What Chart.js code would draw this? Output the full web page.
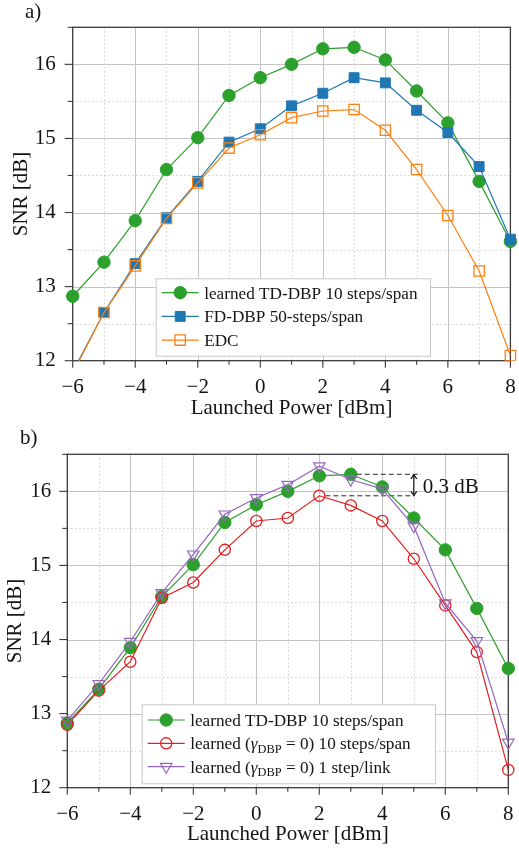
<!DOCTYPE html>
<html>
<head>
<meta charset="utf-8">
<title>SNR vs launched power</title>
<script src="https://cdn.jsdelivr.net/npm/chart.js@4/dist/chart.umd.min.js"></script>
<style>
  html, body { margin: 0; padding: 0; background: #ffffff; }
  canvas { display: block; position: absolute; left: 0; }
</style>
</head>
<body>
<canvas id="snrA" width="519" height="425" style="top:0px"></canvas>
<canvas id="snrB" width="519" height="425" style="top:425px"></canvas>
<script>
// ---- data ----
const powerDbm = [-6, -5, -4, -3, -2, -1, 0, 1, 2, 3, 4, 5, 6, 7, 8];
const tdDbpLearned      = [12.87, 13.33, 13.89, 14.58, 15.01, 15.58, 15.82, 16.00, 16.21, 16.23, 16.06, 15.64, 15.21, 14.42, 13.61];
const fdDbp50           = [11.85, 12.65, 13.31, 13.93, 14.42, 14.95, 15.13, 15.44, 15.61, 15.82, 15.75, 15.38, 15.08, 14.62, 13.64];
const edc               = [11.83, 12.65, 13.28, 13.92, 14.40, 14.87, 15.05, 15.28, 15.37, 15.39, 15.11, 14.58, 13.96, 13.21, 12.07];
const learnedNoGamma10  = [12.85, 13.31, 13.70, 14.56, 14.77, 15.21, 15.60, 15.64, 15.94, 15.81, 15.60, 15.09, 14.46, 13.83, 12.24];
const learnedNoGamma1   = [12.91, 13.40, 13.97, 14.63, 15.15, 15.69, 15.91, 16.09, 16.34, 16.16, 16.03, 15.53, 14.49, 13.98, 12.61];

const xTickValues = [-6, -4, -2, 0, 2, 4, 6, 8];
const yTickValues = [12, 13, 14, 15, 16];
const xTitle = 'Launched Power [dBm]';
const yTitle = 'SNR [dB]';

const labelTdDbp   = 'learned TD-DBP 10 steps/span';
const labelFdDbp   = 'FD-DBP 50-steps/span';
const labelEdc     = 'EDC';
const labelNoGam10 = 'learned (γ_{DBP} = 0) 10 steps/span';
const labelNoGam1  = 'learned (γ_{DBP} = 0) 1 step/link';
const gapLabel     = '0.3 dB';

// ---- styling ----
const SERIF = "'Liberation Serif', 'DejaVu Serif', serif";
const INK = '#141414';
const GREEN = '#2ca02c', BLUE = '#1f77b4', ORANGE = '#ff7f0e', RED = '#e41f22', PURPLE = '#9467bd';
const NONE = 'rgba(0,0,0,0)';

const styleTd  = { borderColor: GREEN,  borderWidth: 1.2, pointStyle: 'circle', pointRadius: 6.2, pointBackgroundColor: GREEN, pointBorderColor: GREEN, pointBorderWidth: 1 };
const styleFd  = { borderColor: BLUE,   borderWidth: 1.2, pointStyle: 'rect',   pointRadius: 7,   pointBackgroundColor: BLUE,  pointBorderColor: BLUE,  pointBorderWidth: 1 };
const styleEdc = { borderColor: ORANGE, borderWidth: 1.2, pointStyle: 'rect',   pointRadius: 7.3, pointBackgroundColor: NONE,  pointBorderColor: ORANGE, pointBorderWidth: 1.3 };
const styleN10 = { borderColor: RED,    borderWidth: 1.2, pointStyle: 'circle', pointRadius: 5.6, pointBackgroundColor: NONE,  pointBorderColor: RED,   pointBorderWidth: 1.3 };
const styleN1  = { borderColor: PURPLE, borderWidth: 1.2, pointStyle: 'triangle', pointRotation: 180, pointRadius: 6.6, pointBackgroundColor: NONE, pointBorderColor: PURPLE, pointBorderWidth: 1.2 };

function series(label, values, style, order) {
  return Object.assign({
    label,
    data: powerDbm.map((x, i) => ({ x, y: values[i] })),
    backgroundColor: NONE,
    tension: 0,
    order,
    clip: { left: 12, right: 12, top: 12, bottom: 0 }
  }, style);
}

function fmtTick(v) { return v < 0 ? '\u2212' + Math.abs(v) : String(v); }

// draws "text_{sub}" with italic greek and lowered subscripts
function drawRich(ctx, text, x, y, size) {
  const parts = [];
  const re = /_\{([^}]*)\}/g;
  let last = 0, m;
  while ((m = re.exec(text)) !== null) {
    if (m.index > last) parts.push({ t: text.slice(last, m.index) });
    parts.push({ t: m[1], sub: true });
    last = re.lastIndex;
  }
  if (last < text.length) parts.push({ t: text.slice(last) });
  let cx = x;
  ctx.textBaseline = 'alphabetic';
  ctx.textAlign = 'left';
  for (const p of parts) {
    const chunks = p.sub ? [{ t: p.t, it: false }] :
      p.t.split(/([\u03b1-\u03c9])/).filter(s => s.length).map(s => ({ t: s, it: /^[\u03b1-\u03c9]$/.test(s) }));
    for (const c of chunks) {
      const fs = p.sub ? size * 0.72 : size;
      ctx.font = (c.it ? 'italic ' : '') + fs + 'px ' + SERIF;
      ctx.fillText(c.t, cx, y + (p.sub ? size * 0.22 : 0));
      cx += ctx.measureText(c.t).width;
    }
  }
}

function drawMarker(ctx, ds, x, y) {
  ctx.save();
  ctx.fillStyle = ds.pointBackgroundColor;
  ctx.strokeStyle = ds.pointBorderColor;
  ctx.lineWidth = ds.pointBorderWidth;
  Chart.helpers.drawPoint(ctx, {
    pointStyle: ds.pointStyle,
    rotation: ds.pointRotation || 0,
    radius: ds.pointRadius,
    borderWidth: ds.pointBorderWidth
  }, x, y);
  ctx.restore();
}

// grid lines, frame and tick marks
const framePlugin = {
  id: 'frame',
  beforeDatasetsDraw(chart) {
    const { ctx, chartArea: a, scales: { x, y } } = chart;
    ctx.save();
    ctx.lineWidth = 1;
    const seg = (x0, y0, x1, y1) => { ctx.beginPath(); ctx.moveTo(x0, y0); ctx.lineTo(x1, y1); ctx.stroke(); };
    for (let v = x.min + 1; v < x.max; v++) {
      const px = Math.round(x.getPixelForValue(v)) + 0.5;
      const major = xTickValues.includes(v);
      ctx.strokeStyle = major ? '#c4c4c4' : '#b9b9b9';
      ctx.setLineDash(major ? [] : [1, 3]);
      seg(px, a.top, px, a.bottom);
    }
    for (const t of y.ticks) {
      const v = t.value;
      if (v <= y.min || v >= y.max) continue;
      const py = Math.round(y.getPixelForValue(v)) + 0.5;
      const major = yTickValues.includes(v);
      ctx.strokeStyle = major ? '#c4c4c4' : '#b9b9b9';
      ctx.setLineDash(major ? [] : [1, 3]);
      seg(a.left, py, a.right, py);
    }
    ctx.setLineDash([]);
    ctx.strokeStyle = '#3a3a3a';
    ctx.lineWidth = 1.3;
    ctx.strokeRect(a.left, a.top, a.right - a.left, a.bottom - a.top);
    ctx.lineWidth = 1.1;
    for (let v = x.min; v <= x.max; v++) {
      const px = x.getPixelForValue(v);
      seg(px, a.bottom, px, a.bottom + (xTickValues.includes(v) ? 7 : 4));
    }
    for (const t of y.ticks) {
      const py = y.getPixelForValue(t.value);
      seg(a.left, py, a.left - (yTickValues.includes(t.value) ? 8 : 5), py);
    }
    ctx.restore();
  }
};

// boxed legend placed inside the plot area
const boxLegendPlugin = {
  id: 'boxLegend',
  afterDatasetsDraw(chart, args, opts) {
    if (!opts || !opts.box) return;
    const { ctx } = chart;
    const b = opts.box;
    ctx.save();
    ctx.fillStyle = '#ffffff';
    ctx.strokeStyle = '#c8c8c8';
    ctx.lineWidth = 1;
    ctx.fillRect(b.left, b.top, b.width, b.height);
    ctx.strokeRect(b.left + 0.5, b.top + 0.5, b.width, b.height);
    chart.data.datasets.forEach((ds, i) => {
      const cy = b.top + opts.firstRow + i * opts.rowGap;
      const x0 = b.left + 6, x1 = b.left + 43;
      ctx.strokeStyle = ds.borderColor;
      ctx.lineWidth = ds.borderWidth;
      ctx.beginPath(); ctx.moveTo(x0, cy); ctx.lineTo(x1, cy); ctx.stroke();
      drawMarker(ctx, ds, (x0 + x1) / 2, cy);
      ctx.fillStyle = INK;
      drawRich(ctx, ds.label, b.left + 48.5, cy + 6, 17.2);
    });
    ctx.restore();
  }
};

// panel tag such as "a)"
const panelTagPlugin = {
  id: 'panelTag',
  afterDraw(chart, args, opts) {
    if (!opts || !opts.text) return;
    const { ctx } = chart;
    ctx.save();
    ctx.fillStyle = INK;
    ctx.font = '21px ' + SERIF;
    ctx.textAlign = 'left';
    ctx.textBaseline = 'middle';
    ctx.fillText(opts.text, opts.x, opts.y);
    ctx.restore();
  }
};

// peak-gap marker: two dashed levels and a double arrow with its label
const gapPlugin = {
  id: 'gapMarker',
  beforeDatasetsDraw(chart, args, opts) {
    if (!opts || !opts.upper) return;
    const { ctx, scales: { x, y } } = chart;
    const up = opts.upper, lo = opts.lower;
    const yu = y.getPixelForValue(up.value), yl = y.getPixelForValue(lo.value);
    ctx.save();
    ctx.strokeStyle = '#2a2a2a';
    ctx.lineWidth = 1;
    ctx.setLineDash([5, 3]);
    ctx.beginPath();
    ctx.moveTo(x.getPixelForValue(up.from) + 6, yu); ctx.lineTo(x.getPixelForValue(up.to), yu);
    ctx.moveTo(x.getPixelForValue(lo.from) + 6, yl); ctx.lineTo(x.getPixelForValue(lo.to), yl);
    ctx.stroke();
    ctx.setLineDash([]);
    const ax = x.getPixelForValue(opts.arrowX);
    ctx.strokeStyle = '#111';
    ctx.lineWidth = 1.2;
    ctx.beginPath(); ctx.moveTo(ax, yu + 1); ctx.lineTo(ax, yl - 1); ctx.stroke();
    ctx.beginPath();
    ctx.moveTo(ax - 3, yu + 4.5); ctx.lineTo(ax, yu + 0.5); ctx.lineTo(ax + 3, yu + 4.5);
    ctx.moveTo(ax - 3, yl - 4.5); ctx.lineTo(ax, yl - 0.5); ctx.lineTo(ax + 3, yl - 4.5);
    ctx.stroke();
    ctx.fillStyle = INK;
    ctx.font = '21px ' + SERIF;
    ctx.textAlign = 'left';
    ctx.textBaseline = 'middle';
    ctx.fillText(opts.text, ax + 9, (yu + yl) / 2 + 2);
    ctx.restore();
  }
};

function makeChart(id, datasets, L, pluginOpts) {
  const tickFont = { family: SERIF, size: 21 };
  return new Chart(document.getElementById(id), {
    type: 'line',
    data: { datasets },
    plugins: [framePlugin, gapPlugin, boxLegendPlugin, panelTagPlugin],
    options: {
      responsive: false,
      animation: false,
      devicePixelRatio: 1,
      events: [],
      layout: { padding: { left: 0, top: L.top, right: L.right, bottom: 0 } },
      plugins: Object.assign({ legend: { display: false }, tooltip: { enabled: false } }, pluginOpts),
      scales: {
        x: {
          type: 'linear', min: -6, max: 8,
          afterBuildTicks: s => { s.ticks = powerDbm.map(v => ({ value: v })); },
          ticks: {
            autoSkip: false, maxRotation: 0, minRotation: 0, padding: L.xTickPad,
            color: INK, font: tickFont,
            callback: v => xTickValues.includes(v) ? fmtTick(v) : ''
          },
          grid: { display: false, drawTicks: false, tickLength: 0 },
          border: { display: false },
          title: { display: true, text: xTitle, color: INK, font: tickFont, padding: { top: 0, bottom: L.xTitlePad } },
          afterFit: s => { s.height = L.xHeight; s.paddingLeft = 0; s.paddingRight = 0; }
        },
        y: {
          type: 'linear', min: 12, max: 16.5,
          ticks: {
            stepSize: 0.5, padding: L.yTickPad, color: INK, font: tickFont,
            callback: v => yTickValues.includes(v) ? fmtTick(v) : ''
          },
          grid: { display: false, drawTicks: false, tickLength: 0 },
          border: { display: false },
          title: { display: true, text: yTitle, color: INK, font: tickFont, padding: { top: L.yTitlePad, bottom: 0 } },
          afterFit: s => { s.width = L.left; s.paddingTop = 0; s.paddingBottom = 0; }
        }
      }
    }
  });
}

makeChart('snrA', [
  series(labelTdDbp, tdDbpLearned, styleTd, 3),
  series(labelFdDbp, fdDbp50, styleFd, 2),
  series(labelEdc, edc, styleEdc, 1)
], { left: 72.7, right: 6.3, top: 27.3, xHeight: 64.3, xTickPad: 13.7, xTitlePad: 4.4, yTickPad: 17, yTitlePad: 8.4 }, {
  boxLegend: { box: { left: 155.7, top: 278.3, width: 274.3, height: 77.4 }, firstRow: 14.4, rowGap: 23.7 },
  panelTag: { text: 'a)', x: 25, y: 12.5 }
});

const peakIdx = arr => arr.indexOf(Math.max(...arr));
makeChart('snrB', [
  series(labelTdDbp, tdDbpLearned, styleTd, 3),
  series(labelNoGam10, learnedNoGamma10, styleN10, 2),
  series(labelNoGam1, learnedNoGamma1, styleN1, 1)
], { left: 67.3, right: 10.7, top: 29.3, xHeight: 62.3, xTickPad: 14.4, xTitlePad: 3.0, yTickPad: 16, yTitlePad: 2.9 }, {
  boxLegend: { box: { left: 141.7, top: 279.3, width: 293.3, height: 79 }, firstRow: 15.7, rowGap: 23.35 },
  panelTag: { text: 'b)', x: 20, y: 13.3 },
  gapMarker: {
    upper: { value: Math.max(...tdDbpLearned), from: powerDbm[peakIdx(tdDbpLearned)], to: 5.23 },
    lower: { value: Math.max(...learnedNoGamma10), from: powerDbm[peakIdx(learnedNoGamma10)], to: 5.04 },
    arrowX: 5.0,
    text: gapLabel
  }
});
</script>
</body>
</html>
